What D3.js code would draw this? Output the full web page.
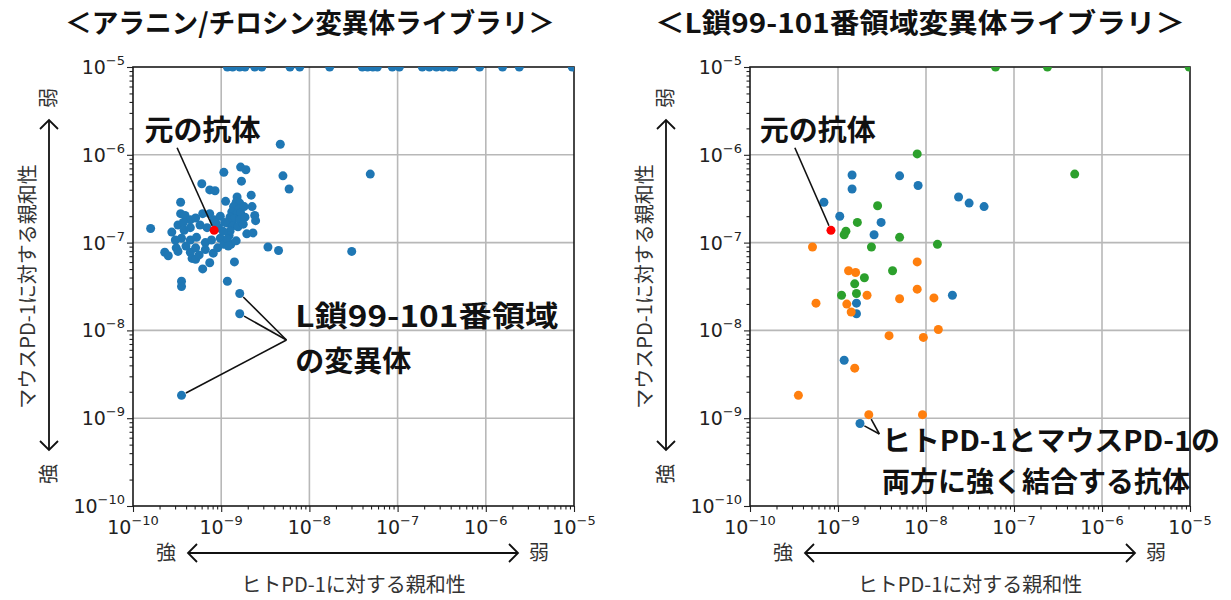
<!DOCTYPE html>
<html><head><meta charset="utf-8">
<script src="https://cdn.jsdelivr.net/npm/d3@7"></script>
<style>body{margin:0;background:#fff}</style>
</head><body>
<svg id="c" width="1231" height="600"></svg>
<script>
// ---------- DATA (values are log10 of KD in M) ----------
// Left panel: alanine/tyrosine variant library (human KD, mouse KD)
const alaHuman = [
  -8.93,-8.87,-8.79,-8.73,-8.62,-8.54,-8.22,-8.11,-7.77,-7.40,-7.34,-7.28,-7.23,-7.06,-6.98,-6.72,-6.64,-6.56,-6.49,-6.41,-6.36,-6.07,-5.81,-5.62,-5.02,
  -8.33,-8.97,-8.78,-8.72,-8.77,-8.30,-8.23,-7.31,-9.22,-9.13,-9.07,-9.46,-9.46,-8.95,-8.66,-8.65,-8.62,-8.61,-9.80,-8.71,
  -8.64,-8.47,-8.35,-9.64,-9.60,-9.51,-9.49,-9.35,-9.33,-9.29,-9.09,-9.13,-9.21,-8.85,-8.93,-9.45,-9.45,-8.79,-8.79,-9.45,-7.52,
  -8.82,-8.83,-8.79,-8.86,-8.80,-8.88,-8.82,-8.78,-8.90,-8.85,-8.79,-8.92,-8.87,-8.81,-8.75,-8.90,-8.74,-8.73,
  -9.41,-9.35,-9.29,-9.21,-9.13,-9.08,-9.01,-8.96,-9.49,-9.42,-9.35,-9.24,-9.16,-9.03,-9.52,-9.45,-9.35,-9.28,-9.18,-9.11,
  -9.01,-9.40,-9.29,-9.18,-9.04,-8.97,-8.91,-8.89,-8.83,-9.56,-9.25,-9.06,-8.98,-8.93,-8.92,-9.43
];
const alaMouse = [
  -5.00,-5.00,-5.00,-5.00,-5.00,-5.00,-5.00,-5.00,-5.00,-5.00,-5.00,-5.00,-5.00,-5.00,-5.00,-5.00,-5.00,-5.00,-5.00,-5.00,-5.00,-5.00,-5.00,-5.00,-5.00,
  -5.88,-6.20,-6.14,-6.17,-6.30,-6.24,-6.39,-6.22,-6.33,-6.40,-6.41,-6.54,-6.67,-6.53,-6.46,-6.59,-6.69,-6.75,-6.84,-6.90,
  -6.89,-7.05,-7.09,-7.11,-7.15,-7.06,-7.10,-7.11,-7.18,-7.19,-7.12,-7.23,-7.30,-7.22,-7.44,-7.44,-7.50,-7.58,-7.81,-8.74,-7.10,
  -6.48,-6.54,-6.55,-6.59,-6.62,-6.65,-6.67,-6.66,-6.71,-6.73,-6.74,-6.78,-6.81,-6.82,-6.79,-6.87,-6.59,-6.71,
  -6.69,-6.74,-6.72,-6.67,-6.67,-6.74,-6.70,-6.77,-6.80,-6.86,-6.83,-6.80,-6.83,-6.83,-6.97,-6.95,-6.97,-6.94,-7.00,-6.97,
  -6.95,-7.04,-7.06,-7.08,-7.06,-7.02,-6.92,-7.02,-6.98,-6.88,-7.14,-6.78,-6.87,-6.96,-7.04,-6.77
];
// Right panel: L-chain 99-101 region variant library, three groups
const blueHuman   = [-8.84,-8.84,-8.30,-8.09,-7.63,-7.51,-7.34,-9.16,-8.98,-8.51,-8.59,-7.70,-8.79,-8.79,-8.93,-8.75];
const blueMouse   = [-6.23,-6.39,-6.24,-6.35,-6.48,-6.55,-6.59,-6.54,-6.70,-6.77,-6.91,-7.60,-7.69,-7.81,-8.34,-9.06];
const orangeHuman = [-9.29,-8.10,-8.88,-8.80,-8.10,-8.67,-8.30,-7.91,-9.25,-8.90,-8.85,-7.86,-8.42,-8.03,-8.81,-9.45,-8.65,-8.04];
const orangeMouse = [-7.05,-7.22,-7.32,-7.34,-7.53,-7.60,-7.64,-7.63,-7.69,-7.70,-7.79,-7.99,-8.06,-8.08,-8.43,-8.74,-8.96,-8.96];
const greenHuman  = [-7.21,-6.62,-5.01,-8.10,-6.31,-8.55,-8.78,-8.91,-8.93,-8.30,-8.62,-7.87,-8.70,-8.38,-8.81,-8.79,-8.96];
const greenMouse  = [-5.00,-5.00,-5.00,-5.99,-6.22,-6.58,-6.77,-6.87,-6.91,-6.94,-7.05,-7.02,-7.40,-7.32,-7.47,-7.58,-7.60];
// Original antibody
const origHuman = -9.08, origMouse = -6.86;
// Axis ticks
const majorExp = [-10,-9,-8,-7,-6,-5];
const minorMult = [2,3,4,5,6,7,8,9];

// ---------- LAYOUT ----------
const svg = d3.select("#c");
const Y0 = 67, Y1 = 506;
const CJK = "'Noto Sans CJK JP','Noto Sans CJK SC',sans-serif";
const TICKF = "'DejaVu Sans',sans-serif";
const BLUE="#1f77b4", ORANGE="#ff7f0e", GREEN="#2ca02c", RED="#ff0000";
const R = 4.5;

function makePanel(id, x0, x1, title, titleCx, titleW, groups, notes){
  const x = d3.scaleLog().domain([1e-10,1e-5]).range([x0,x1]);
  const y = d3.scaleLog().domain([1e-10,1e-5]).range([Y1,Y0]);
  const X = e => x(Math.pow(10,e)), Yp = e => y(Math.pow(10,e));
  const g = svg.append("g");

  // title
  g.append("text").attr("x",titleCx-titleW/2).attr("y",33)
    .attr("textLength",titleW).attr("lengthAdjust","spacingAndGlyphs")
    .style("font-family",CJK).style("font-weight","bold").style("font-size","27px").attr("fill","#111").text(title);

  // grid
  const grid = g.append("g");
  majorExp.slice(1,-1).forEach(e=>{
    grid.append("line").attr("x1",X(e)).attr("x2",X(e)).attr("y1",Y0).attr("y2",Y1).attr("stroke","#b8b8b8").attr("stroke-width",1.6);
    grid.append("line").attr("y1",Yp(e)).attr("y2",Yp(e)).attr("x1",x0).attr("x2",x1).attr("stroke","#b8b8b8").attr("stroke-width",1.6);
  });

  // axes with major & minor ticks
  const majors = majorExp.map(e=>Math.pow(10,e));
  const minors = [];
  majorExp.slice(0,-1).forEach(e=>minorMult.forEach(m=>minors.push(m*Math.pow(10,e))));
  const axB = g.append("g").attr("transform",`translate(0,${Y1})`);
  axB.call(d3.axisBottom(x).tickValues(majors).tickFormat("").tickSize(6));
  axB.append("g").call(d3.axisBottom(x).tickValues(minors).tickFormat("").tickSize(3.5));
  const axL = g.append("g").attr("transform",`translate(${x0},0)`);
  axL.call(d3.axisLeft(y).tickValues(majors).tickFormat("").tickSize(6));
  axL.append("g").call(d3.axisLeft(y).tickValues(minors).tickFormat("").tickSize(3.5));
  g.selectAll(".domain").remove();
  g.selectAll(".tick line").attr("stroke","#222").attr("stroke-width",1.1);

  // tick labels
  majorExp.forEach(e=>{
    const tx = g.append("text").attr("x",X(e)).attr("y",Y1+28).attr("text-anchor","middle")
      .style("font-family",TICKF).style("font-size","19px").attr("fill","#222");
    tx.append("tspan").text("10");
    tx.append("tspan").attr("dy",-9).style("font-size","13px").text("\u2212"+(-e));
    const ty = g.append("text").attr("x",x0-8).attr("y",Yp(e)+7).attr("text-anchor","end")
      .style("font-family",TICKF).style("font-size","19px").attr("fill","#222");
    ty.append("tspan").text("10");
    ty.append("tspan").attr("dy",-9).style("font-size","13px").text("\u2212"+(-e));
  });

  // frame
  g.append("rect").attr("x",x0).attr("y",Y0).attr("width",x1-x0).attr("height",Y1-Y0)
    .attr("fill","none").attr("stroke","#1a1a1a").attr("stroke-width",1.6);

  // points (clipped to plot area)
  svg.append("clipPath").attr("id","clip"+id).append("rect")
    .attr("x",x0).attr("y",Y0).attr("width",x1-x0).attr("height",Y1-Y0);
  const pts = g.append("g").attr("clip-path",`url(#clip${id})`);
  groups.forEach(gr=>{
    pts.selectAll(null).data(d3.zip(gr.h,gr.m)).join("circle")
      .attr("cx",d=>X(d[0])).attr("cy",d=>Yp(d[1])).attr("r",R).attr("fill",gr.c);
  });
  pts.append("circle").attr("cx",X(origHuman)).attr("cy",Yp(origMouse)).attr("r",R).attr("fill",RED);

  // annotations
  const ann = g.append("g");
  notes.forEach(n=>{
    const t = ann.append("text").attr("x",X(n.tx)).attr("y",Yp(n.ty))
      .style("font-family",CJK).style("font-weight","bold").style("font-size",n.fs+"px").attr("fill","#111");
    n.lines.forEach((l,i)=>{
      const s = t.append("tspan").attr("x",X(n.tx)).attr("dy",i?n.lh:0).text(l);
      if(n.w && n.w[i]) s.attr("textLength",n.w[i]).attr("lengthAdjust","spacingAndGlyphs");
    });
    n.leaders.forEach(p=>{
      const sx=X(n.sx), sy=Yp(n.sy), ex=X(p[0]), ey=Yp(p[1]);
      const L=Math.hypot(ex-sx,ey-sy), k=(L-R-0.5)/L;
      ann.append("line").attr("x1",sx).attr("y1",sy).attr("x2",sx+(ex-sx)*k).attr("y2",sy+(ey-sy)*k)
        .attr("stroke","#111").attr("stroke-width",1.6);
    });
  });

  // axis titles with double arrows
  const cx = (x0+x1)/2;
  const arrY = 553;
  const ax1 = x0+55, ax2 = x0+385;
  g.append("line").attr("x1",ax1).attr("x2",ax2).attr("y1",arrY).attr("y2",arrY).attr("stroke","#111").attr("stroke-width",1.8);
  g.append("path").attr("d",`M${ax1+9},${arrY-9}L${ax1},${arrY}L${ax1+9},${arrY+9}`).attr("fill","none").attr("stroke","#111").attr("stroke-width",1.8);
  g.append("path").attr("d",`M${ax2-9},${arrY-9}L${ax2},${arrY}L${ax2-9},${arrY+9}`).attr("fill","none").attr("stroke","#111").attr("stroke-width",1.8);
  g.append("text").attr("x",ax1-22).attr("y",arrY+7).attr("text-anchor","middle").style("font-family",CJK).style("font-size","20px").attr("fill","#333").text("強");
  g.append("text").attr("x",ax2+21).attr("y",arrY+7).attr("text-anchor","middle").style("font-family",CJK).style("font-size","20px").attr("fill","#333").text("弱");
  g.append("text").attr("x",cx).attr("y",592).attr("text-anchor","middle").style("font-family",CJK).style("font-size","20px").attr("fill","#333").text("ヒトPD-1に対する親和性");

  const vx = x0-84;
  const vy1 = 120, vy2 = 450;
  g.append("line").attr("x1",vx).attr("x2",vx).attr("y1",vy1).attr("y2",vy2).attr("stroke","#111").attr("stroke-width",1.8);
  g.append("path").attr("d",`M${vx-9},${vy1+9}L${vx},${vy1}L${vx+9},${vy1+9}`).attr("fill","none").attr("stroke","#111").attr("stroke-width",1.8);
  g.append("path").attr("d",`M${vx-9},${vy2-9}L${vx},${vy2}L${vx+9},${vy2-9}`).attr("fill","none").attr("stroke","#111").attr("stroke-width",1.8);
  g.append("text").attr("transform",`translate(${vx+7},${vy1-22}) rotate(-90)`).attr("text-anchor","middle").style("font-family",CJK).style("font-size","20px").attr("fill","#333").text("弱");
  g.append("text").attr("transform",`translate(${vx+7},${vy2+24}) rotate(-90)`).attr("text-anchor","middle").style("font-family",CJK).style("font-size","20px").attr("fill","#333").text("強");
  g.append("text").attr("transform",`translate(${x0-98},${(Y0+Y1)/2}) rotate(-90)`).attr("text-anchor","middle").style("font-family",CJK).style("font-size","20px").attr("fill","#333").text("マウスPD-1に対する親和性");
}

makePanel("L",133,574,"＜アラニン/チロシン変異体ライブラリ＞",310,490,
  [{h:alaHuman,m:alaMouse,c:BLUE}],
  [
    {lines:["元の抗体"],tx:-9.87,ty:-5.84,fs:29,lh:0,sx:-9.50,sy:-5.92,leaders:[[origHuman,origMouse]]},
    {lines:["L鎖99-101番領域","の変異体"],w:[263,0],tx:-8.16,ty:-7.96,fs:29,lh:45,sx:-8.26,sy:-8.11,
      leaders:[[-8.79,-7.58],[-8.79,-7.81],[-9.45,-8.74]]}
  ]);
makePanel("R",750,1190,"＜L鎖99-101番領域変異体ライブラリ＞",920,530,
  [{h:blueHuman,m:blueMouse,c:BLUE},{h:orangeHuman,m:orangeMouse,c:ORANGE},{h:greenHuman,m:greenMouse,c:GREEN}],
  [
    {lines:["元の抗体"],tx:-9.89,ty:-5.84,fs:29,lh:0,sx:-9.49,sy:-5.92,leaders:[[origHuman,origMouse]]},
    {lines:["ヒトPD-1とマウスPD-1の","両方に強く結合する抗体"],w:[338,0],tx:-8.50,ty:-9.37,fs:28,lh:41,sx:-8.53,sy:-9.18,
      leaders:[[-8.75,-9.06],[-8.65,-8.96]]}
  ]);
</script>
</body></html>
